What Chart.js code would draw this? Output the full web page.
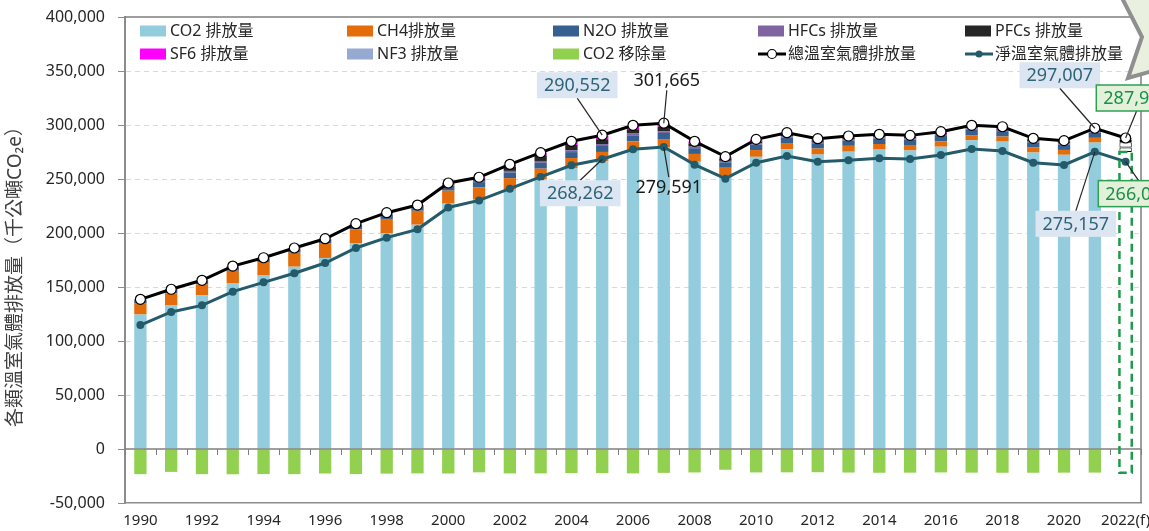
<!DOCTYPE html>
<html>
<head>
<meta charset="utf-8">
<script src="https://cdn.jsdelivr.net/npm/chart.js@4.4.1/dist/chart.umd.min.js"></script>
<style>
body { margin: 0; background: #fff; }
</style>
</head>
<body>
<canvas id="chart-canvas" width="1149" height="531"></canvas>
<script>
// 1990 ~ 2022(f), 單位: 千公噸CO2e
const years = ['1990', '1991', '1992', '1993', '1994', '1995', '1996', '1997', '1998', '1999',
	'2000', '2001', '2002', '2003', '2004', '2005', '2006', '2007', '2008', '2009',
	'2010', '2011', '2012', '2013', '2014', '2015', '2016', '2017', '2018', '2019',
	'2020', '2021', '2022(f)'];

const co2Emission = [124500, 133300, 142300, 153700, 161100, 168800, 176900, 190700, 200000, 207700,
	227200, 230800, 240200, 249600, 260100, 266450, 276800, 279370, 266000, 253600,
	270500, 277400, 272600, 275300, 277200, 276400, 279900, 285800, 284600, 274500,
	272400, 283700, 274960];
const ch4Emission = [10100, 10900, 10200, 11400, 12000, 13000, 13200, 12700, 13000, 12900,
	12000, 11300, 10600, 10000, 9300, 8600, 8000, 7600, 7200, 6800,
	6300, 5900, 5600, 5400, 5200, 5100, 5000, 4800, 4700, 4600,
	4500, 4400, 4300];
const n2oEmission = [3200, 3000, 3000, 3400, 3200, 3400, 3600, 3900, 4200, 3900,
	4600, 5000, 5200, 5400, 5500, 5500, 5600, 5600, 5300, 5000,
	5000, 5000, 4900, 4900, 4900, 4900, 4900, 5000, 5000, 4800,
	4800, 4900, 4800];
const hfcsEmission = [300, 300, 300, 300, 300, 300, 400, 500, 600, 600,
	900, 1200, 1500, 1700, 1800, 1800, 1700, 1600, 1500, 1400,
	1400, 1400, 1300, 1300, 1300, 1300, 1300, 1300, 1300, 1200,
	1200, 1200, 1200];
const pfcsEmission = [100, 100, 100, 100, 100, 200, 200, 300, 400, 400,
	700, 2000, 3700, 4600, 4800, 4500, 4000, 4200, 2500, 1800,
	1600, 1500, 1400, 1400, 1400, 1300, 1300, 1300, 1300, 1200,
	1200, 1300, 1200];
const sf6Emission = [400, 300, 300, 500, 400, 400, 400, 500, 600, 400,
	800, 1200, 2200, 2800, 3000, 3200, 3000, 2600, 1800, 1600,
	1400, 1200, 1000, 1000, 900, 900, 900, 900, 900, 800,
	800, 800, 800];
const nf3Emission = [0, 0, 0, 0, 0, 0, 0, 0, 0, 0,
	100, 100, 200, 300, 400, 500, 600, 700, 600, 500,
	500, 500, 500, 500, 500, 500, 500, 600, 600, 600,
	600, 700, 700];
const co2Removal = [-23300, -21200, -23300, -23400, -23200, -23300, -22700, -23200, -22800, -22600,
	-22700, -21600, -22600, -22600, -22300, -22300, -22600, -22100, -21700, -19200,
	-21700, -21600, -21500, -21800, -22000, -21900, -21700, -21900, -22000, -22000,
	-21900, -21850, -21900];
const totalEmission = [138600, 147900, 156200, 169400, 177100, 186100, 194700, 208600, 218800, 225900,
	246300, 251600, 263600, 274400, 284900, 290552, 299700, 301665, 284900, 270700,
	286700, 292900, 287300, 289800, 291400, 290400, 293800, 299700, 298400, 287700,
	285500, 297007, 287960];
const netEmission = [114800, 126900, 133000, 145700, 154300, 162700, 172200, 186100, 195700, 203400,
	223600, 230200, 241000, 251900, 262700, 268262, 277500, 279591, 263300, 250300,
	265100, 271300, 266000, 267300, 269200, 268500, 272200, 277800, 275900, 265100,
	263000, 275157, 266080];

const yTicks = { min: -50000, max: 400000, step: 50000 };
const yTitle = '各類溫室氣體排放量（千公噸CO₂e）';

const FONT = "'Noto Sans', 'Noto Sans CJK TC', sans-serif";
Chart.defaults.font.family = FONT;

const ctx = document.querySelector('#chart-canvas').getContext('2d');
const LAST = years.length - 1;

// 2022(f) 推估值: 空心長條
const barSet = (label, data, color, outline) => ({
	type: 'bar',
	label,
	data,
	order: 1,
	stack: 'gas',
	legendColor: color,
	backgroundColor: c => c.dataIndex === LAST ? '#ffffff' : color,
	borderColor: '#000000',
	borderWidth: c => (outline && c.dataIndex === LAST) ? 1 : 0,
	borderSkipped: false,
	barPercentage: 0.4,
	categoryPercentage: 1
});

const datasets = [
	barSet('CO2 排放量', co2Emission, '#93CDDD', false),
	barSet('CH4排放量', ch4Emission, '#E46C0A', true),
	barSet('N2O 排放量', n2oEmission, '#376092', true),
	barSet('HFCs 排放量', hfcsEmission, '#8064A2', true),
	barSet('PFCs 排放量', pfcsEmission, '#262626', true),
	barSet('SF6 排放量', sf6Emission, '#FF00FF', true),
	barSet('NF3 排放量', nf3Emission, '#95A9D1', true),
	barSet('CO2 移除量', co2Removal, '#92D050', false),
	{
		type: 'line',
		label: '總溫室氣體排放量',
		data: totalEmission,
		order: 0,
		stack: 'total',
		legendColor: '#000000',
		borderColor: '#000000',
		borderWidth: 3,
		pointRadius: 5,
		pointBackgroundColor: '#ffffff',
		pointBorderColor: '#000000',
		pointBorderWidth: 1.2,
		tension: 0
	},
	{
		type: 'line',
		label: '淨溫室氣體排放量',
		data: netEmission,
		order: 0,
		stack: 'net',
		legendColor: '#245B6B',
		borderColor: '#245B6B',
		borderWidth: 3,
		pointRadius: 4,
		pointBackgroundColor: '#245B6B',
		pointBorderWidth: 0,
		tension: 0
	}
];

// 圖框、0 軸與 2022 虛線框
const framePlugin = {
	id: 'frame',
	afterDatasetsDraw(chart) {
		const { ctx, chartArea: a, scales: { x, y } } = chart;
		ctx.save();
		ctx.strokeStyle = '#7F7F7F';
		ctx.lineWidth = 1.5;
		ctx.beginPath();
		ctx.moveTo(a.left, a.top);
		ctx.lineTo(a.right, a.top);
		ctx.lineTo(a.right, a.bottom);
		ctx.stroke();

		const y0 = y.getPixelForValue(0);
		ctx.beginPath();
		ctx.moveTo(a.left, y0);
		ctx.lineTo(a.right, y0);
		ctx.stroke();
		const half = (x.getPixelForValue(1) - x.getPixelForValue(0)) / 2;
		ctx.lineWidth = 1;
		ctx.beginPath();
		for (let i = 0; i <= years.length; i++) {
			const px = Math.round(x.getPixelForValue(i) - half) + 0.5;
			ctx.moveTo(px, y0);
			ctx.lineTo(px, y0 + 6);
		}
		ctx.stroke();

		const top = chart.getDatasetMeta(0).data[LAST].getProps(['x', 'y', 'width'], true);
		const bottom = chart.getDatasetMeta(7).data[LAST].getProps(['y'], true);
		ctx.strokeStyle = '#1E9A4B';
		ctx.lineWidth = 2.5;
		ctx.setLineDash([8, 5]);
		ctx.strokeRect(top.x - top.width / 2, top.y, top.width, bottom.y - top.y);
		ctx.restore();
	}
};

// 數值標註
const notes = [
	{ ds: 8, i: 15, dx: -25, dy: -50, style: 'blue' },
	{ ds: 8, i: 17, dx: 3, dy: -43, style: 'plain' },
	{ ds: 9, i: 15, dx: -22, dy: 34, style: 'blue' },
	{ ds: 9, i: 17, dx: 5, dy: 40, style: 'plain' },
	{ ds: 8, i: 31, dx: -35, dy: -53, style: 'blue' },
	{ ds: 9, i: 31, dx: -19, dy: 72, style: 'blue' },
	{ ds: 8, i: 32, dx: 11, dy: -40, style: 'green' },
	{ ds: 9, i: 32, dx: 13, dy: 32, style: 'green' }
];
const noteStyles = {
	blue: { bg: '#DCE6F2', border: null, text: '#2E6477' },
	plain: { bg: null, border: null, text: '#1A1A1A' },
	green: { bg: '#E3F1DA', border: '#2EA052', text: '#1A9146' }
};

const notesPlugin = {
	id: 'notes',
	afterDatasetsDraw(chart) {
		const { ctx } = chart;
		ctx.save();
		ctx.font = `18px ${FONT}`;
		ctx.textAlign = 'center';
		ctx.textBaseline = 'middle';
		for (const n of notes) {
			const p = chart.getDatasetMeta(n.ds).data[n.i].getProps(['x', 'y'], true);
			const text = chart.data.datasets[n.ds].data[n.i].toLocaleString('en-US');
			const st = noteStyles[n.style];
			const w = ctx.measureText(text).width + 14;
			const h = st.bg ? 26 : 20;
			const cx = p.x + n.dx;
			const cy = p.y + n.dy;
			ctx.strokeStyle = '#262626';
			ctx.lineWidth = 1.2;
			ctx.beginPath();
			ctx.moveTo(cx, n.dy < 0 ? cy + h / 2 : cy - h / 2);
			ctx.lineTo(p.x, p.y);
			ctx.stroke();
			if (st.bg) {
				ctx.fillStyle = st.bg;
				ctx.fillRect(cx - w / 2, cy - h / 2, w, h);
			}
			if (st.border) {
				ctx.strokeStyle = st.border;
				ctx.lineWidth = 1.5;
				ctx.strokeRect(cx - w / 2, cy - h / 2, w, h);
			}
			ctx.fillStyle = st.text;
			ctx.fillText(text, cx, cy + 1);
		}
		ctx.restore();
	}
};

// 圖例 (5 欄 x 2 列, 在繪圖區內)
const legendCols = [140, 347, 553, 758, 965];
const legendRows = [31, 54];

const legendPlugin = {
	id: 'gridLegend',
	afterDraw(chart) {
		const { ctx, chartArea: a } = chart;
		ctx.save();
		ctx.font = `16px ${FONT}`;
		ctx.textBaseline = 'middle';
		chart.data.datasets.forEach((ds, k) => {
			const lx = legendCols[k % 5];
			const ly = legendRows[Math.floor(k / 5)];
			if (ds.type === 'bar') {
				ctx.fillStyle = ds.legendColor;
				ctx.fillRect(lx, ly - 5.5, 26, 11);
			} else {
				ctx.strokeStyle = ds.borderColor;
				ctx.lineWidth = 3;
				ctx.beginPath();
				ctx.moveTo(lx, ly);
				ctx.lineTo(lx + 28, ly);
				ctx.stroke();
				ctx.beginPath();
				ctx.arc(lx + 14, ly, ds.pointRadius - 0.5, 0, Math.PI * 2);
				ctx.fillStyle = ds.pointBackgroundColor;
				ctx.fill();
				if (ds.pointBorderWidth) {
					ctx.lineWidth = ds.pointBorderWidth;
					ctx.stroke();
				}
			}
			ctx.fillStyle = '#262626';
			ctx.fillText(ds.label, lx + 30, ly);
		});

		// y 軸標題
		ctx.save();
		ctx.translate(16, a.top + (a.bottom - a.top) / 2 + 12);
		ctx.rotate(-Math.PI / 2);
		ctx.font = `19px ${FONT}`;
		ctx.textAlign = 'center';
		ctx.fillStyle = '#404040';
		ctx.fillText(yTitle, 0, 0);
		ctx.restore();

		// 右上角說明框
		ctx.beginPath();
		ctx.moveTo(1121, -4);
		ctx.lineTo(1142, 37);
		ctx.lineTo(1128, 78);
		ctx.lineTo(1156, 70);
		ctx.lineTo(1156, -4);
		ctx.closePath();
		ctx.fillStyle = '#EAF0DF';
		ctx.fill();
		ctx.strokeStyle = '#8F8F8F';
		ctx.lineWidth = 4;
		ctx.lineJoin = 'miter';
		ctx.stroke();
		ctx.restore();
	}
};

new Chart(ctx, {
	data: { labels: years, datasets },
	options: {
		responsive: false,
		animation: false,
		devicePixelRatio: 1,
		layout: { padding: { top: 17, right: 8, left: 0, bottom: 0 } },
		plugins: {
			legend: { display: false },
			tooltip: { enabled: false }
		},
		scales: {
			x: {
				stacked: true,
				grid: { display: false, drawTicks: false },
				border: { display: true, color: '#8C8C8C', width: 1.5 },
				ticks: {
					autoSkip: false,
					maxRotation: 0,
					minRotation: 0,
					padding: 9,
					color: '#262626',
					font: { size: 15 },
					callback: (v, i) => i % 2 === 0 ? years[i] : ''
				},
				afterFit: s => { s.height = 28; s.paddingLeft = 0; s.paddingRight = 0; }
			},
			y: {
				stacked: true,
				min: yTicks.min,
				max: yTicks.max,
				ticks: {
					stepSize: yTicks.step,
					padding: 13,
					color: '#262626',
					font: { size: 16 },
					callback: v => v.toLocaleString('en-US')
				},
				grid: {
					color: c => (c.tick.value === 0 || c.tick.value === yTicks.min || c.tick.value === yTicks.max) ? 'rgba(0,0,0,0)' : '#D9D9D9',
					tickColor: '#8C8C8C',
					tickLength: 7,
					lineWidth: 1
				},
				border: { display: true, color: '#8C8C8C', width: 2, dash: [5, 4] },
				afterFit: s => { s.width = 125; s.paddingTop = 0; s.paddingBottom = 0; }
			}
		}
	},
	plugins: [framePlugin, notesPlugin, legendPlugin]
});
</script>
</body>
</html>
